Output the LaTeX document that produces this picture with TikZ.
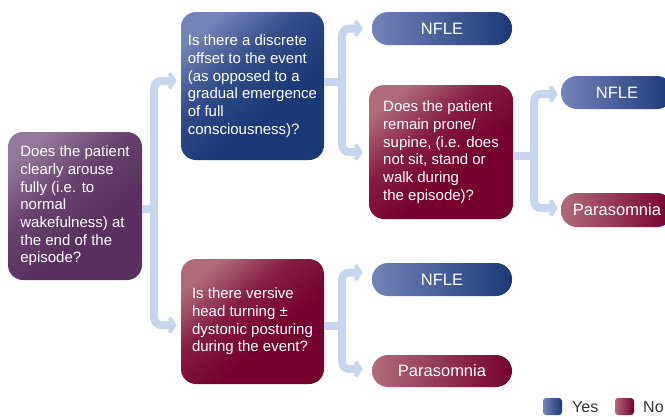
\documentclass[tikz,border=0pt]{standalone}
\usepackage{fontspec}
\setmainfont{Liberation Sans}
\usetikzlibrary{arrows.meta,calc}
\definecolor{bluedk}{HTML}{1B3977}
\definecolor{bluelt}{HTML}{7384B8}
\definecolor{reddk}{HTML}{75002F}
\definecolor{redlt}{HTML}{B06C7A}
\definecolor{purdk}{HTML}{59305F}
\definecolor{purlt}{HTML}{94789B}
\definecolor{conncol}{HTML}{C6D6EE}
\definecolor{legtext}{HTML}{333333}
\pgfdeclareverticalshading{bluesh}{100bp}{color(0bp)=(bluedk); color(40bp)=(bluedk); color(58bp)=(bluedk!75!bluelt); color(76bp)=(bluelt); color(100bp)=(bluelt)}
\pgfdeclareverticalshading{redsh}{100bp}{color(0bp)=(reddk); color(40bp)=(reddk); color(58bp)=(reddk!75!redlt); color(76bp)=(redlt); color(100bp)=(redlt)}
\pgfdeclareverticalshading{pursh}{100bp}{color(0bp)=(purdk); color(40bp)=(purdk); color(58bp)=(purdk!75!purlt); color(76bp)=(purlt); color(100bp)=(purlt)}
\begin{document}
\begin{tikzpicture}[x=1pt,y=-1pt,
  qbox/.style={rounded corners=15pt, align=left, text=white, inner sep=0pt,
    font=\fontsize{15}{17.7}\selectfont},
  pill/.style={rounded corners=16pt, text=white, inner sep=0pt,
    font=\fontsize{16.5}{18}\selectfont},
  blueq/.style={shade, shading=bluesh, shading angle=40},
  redq/.style={shade, shading=redsh, shading angle=40},
  purq/.style={shade, shading=pursh, shading angle=40},
  bluep/.style={left color=bluelt, middle color=bluedk!85!bluelt, right color=bluedk},
  redp/.style={left color=redlt, middle color=reddk!85!redlt, right color=reddk},
  conn/.style={draw=conncol, line width=8pt, rounded corners=7pt},
  arr/.style={-{Straight Barb[length=5pt,width=15pt,line width=4pt]}},
  lsq/.style={rounded corners=3pt, minimum width=19pt, minimum height=17pt, inner sep=0pt},
  legtxt/.style={anchor=west, inner sep=0pt, text=legtext, font=\fontsize{16}{18}\selectfont}
]
\useasboundingbox (0,0) rectangle (665,416);
\clip (0,0) rectangle (665,416);

\node[qbox, purq, minimum width=134pt, minimum height=148pt] (L) at (75,206)
  {Does the patient\\clearly arouse\\fully (i.e. to\\normal\\wakefulness) at\\the end of the\\episode?};
\node[qbox, blueq, minimum width=143pt, minimum height=148pt] (Q1) at (252.5,86)
  {Is there a discrete\\offset to the event\\(as opposed to a\\gradual emergence\\of full\\consciousness)?};
\node[qbox, redq, minimum width=143pt, minimum height=125pt] (Q2) at (252.5,321.5)
  {Is there versive\\head turning ±\\dystonic posturing\\during the event?};
\node[qbox, redq, minimum width=144pt, minimum height=134pt] (Q3) at (441,152)
  {Does the patient\\remain prone/\\supine, (i.e. does\\not sit, stand or\\walk during\\the episode)?};

\node[pill, bluep, minimum width=140pt, minimum height=33pt] (A1) at (442,28.5) {NFLE};
\node[pill, bluep, minimum width=112pt, minimum height=33pt] (A3) at (617,92.5) {NFLE};
\node[pill, redp, minimum width=112pt, minimum height=34pt] (A4) at (617,210) {Parasomnia};
\node[pill, bluep, minimum width=140pt, minimum height=33pt] (A5) at (442,279.5) {NFLE};
\node[pill, redp, minimum width=140pt, minimum height=32pt] (A6) at (442,371) {Parasomnia};

% connectors
\coordinate (j1) at ($(L.east)+(12,3)$);
\draw[conn] ([yshift=-3pt]L.east) -- (j1);
\draw[conn,arr] (j1) |- ([xshift=-4pt,yshift=5pt]Q1.west);
\draw[conn,arr] (j1) |- ([xshift=-4pt,yshift=-3.5pt]Q2.west);

\coordinate (j2) at ($(Q1.east)+(18,-4)$);
\draw[conn] ([yshift=4pt]Q1.east) -- (j2);
\draw[conn,arr] (j2) |- ([xshift=-9pt]A1.west);
\draw[conn,arr] (j2) |- ([xshift=-6pt]Q3.west);

\coordinate (j3) at ($(Q3.east)+(21,4)$);
\draw[conn] ([yshift=-4pt]Q3.east) -- (j3);
\draw[conn,arr] (j3) |- ([xshift=-3pt,yshift=-1.5pt]A3.west);
\draw[conn,arr] (j3) |- ([xshift=-3pt,yshift=2pt]A4.west);

\coordinate (j4) at ($(Q2.east)+(18,4.5)$);
\draw[conn] ([yshift=-4.5pt]Q2.east) -- (j4);
\draw[conn,arr] (j4) |- ([xshift=-9pt,yshift=7pt]A5.west);
\draw[conn,arr] (j4) |- ([xshift=-9pt,yshift=2pt]A6.west);

% legend
\node[lsq, bluep] (ly) at (552.5,406.5) {};
\node[legtxt] (lyt) at (572,407) {Yes};
\node[lsq, redp] (ln) at (624.5,406.5) {};
\node[legtxt] (lnt) at (643,407) {No};
\end{tikzpicture}
\end{document}
